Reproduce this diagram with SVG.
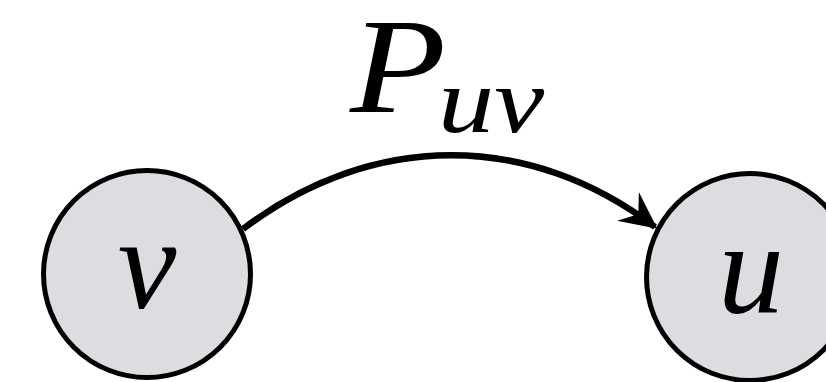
<svg xmlns="http://www.w3.org/2000/svg" width="826" height="382" viewBox="0 0 826 382">
  <defs>
    <marker id="arrow" markerUnits="userSpaceOnUse" markerWidth="44" markerHeight="44" viewBox="-38 -22 44 44" refX="0" refY="0" orient="auto">
      <path d="M3,0 L-34,-18 L-21,0 L-34,18 Z" fill="#000"/>
    </marker>
  </defs>
  <rect width="826" height="382" fill="#fff"/>
  <g id="connectors">
    <path d="M243,229 C372,131 529,131 655,227" fill="none" stroke="#000" stroke-width="6.5" marker-end="url(#arrow)"/>
    <g id="label-Puv">
      <text x="0" y="0" transform="translate(350,112) scale(3.15,2.72)" font-size="50" font-family="Liberation Serif" font-style="italic">P</text>
      <text x="0" y="0" transform="translate(438,132) scale(2.25,1.88)" font-size="50" font-family="Liberation Serif" font-style="italic">uv</text>
    </g>
  </g>
  <g id="nodes" fill="#dcdde0" stroke="#000" stroke-width="5">
    <g id="node-v">
      <circle cx="147" cy="274" r="103.5"/>
      <text x="0" y="0" transform="translate(147,308) scale(2.64)" fill="#000" stroke="none" text-anchor="middle" font-size="50" font-family="Liberation Serif" font-style="italic">v</text>
    </g>
    <g id="node-u">
      <circle cx="750" cy="277" r="103.5"/>
      <text x="0" y="0" transform="translate(751,312) scale(2.64)" fill="#000" stroke="none" text-anchor="middle" font-size="50" font-family="Liberation Serif" font-style="italic">u</text>
    </g>
  </g>
</svg>
